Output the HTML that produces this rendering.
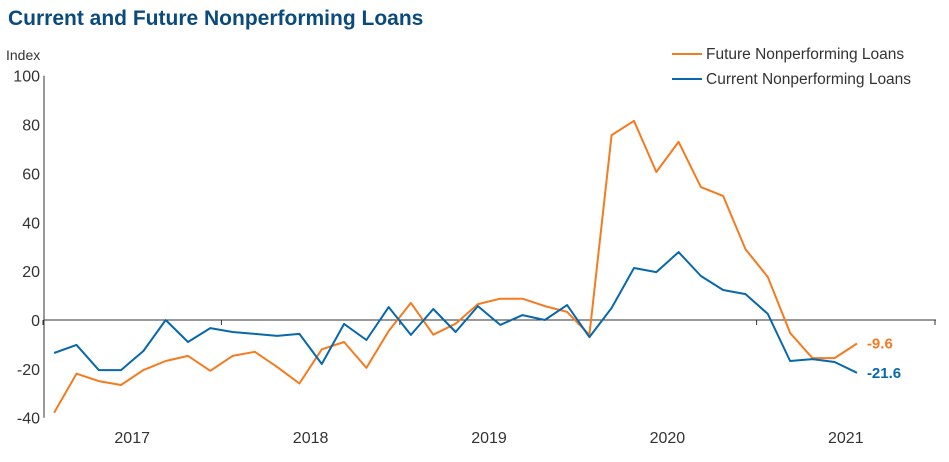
<!DOCTYPE html>
<html><head><meta charset="utf-8"><style>
body{margin:0;background:#fff;font-family:"Liberation Sans",Arial,sans-serif;}
svg text{font-family:"Liberation Sans",Arial,sans-serif;}
</style></head><body>
<svg width="949" height="457" xmlns="http://www.w3.org/2000/svg">
<text x="8" y="25" font-size="21" font-weight="bold" fill="#0b4a7d">Current and Future Nonperforming  Loans</text>
<text x="6" y="60" font-size="14" fill="#333">Index</text>
<g id="axes"></g>
<g id="series"></g>
<g>
<line x1="672" y1="54" x2="702" y2="54" stroke="#f47b20" stroke-width="2"/>
<text x="706" y="59" font-size="15.5" fill="#333">Future Nonperforming Loans</text>
<line x1="672" y1="79" x2="702" y2="79" stroke="#0868ac" stroke-width="2"/>
<text x="706" y="84" font-size="15.5" fill="#333">Current Nonperforming Loans</text>
</g>
</svg>
<script>
const future=[-38,-22,-25,-26.6,-20.5,-16.8,-14.7,-20.8,-14.7,-13,-19.2,-26,-12,-9,-19.6,-4.5,7,-6,-1.5,6.5,8.7,8.7,5.7,3.3,-6.1,75.7,81.5,60.6,72.9,54.4,50.8,29,17.6,-5.3,-15.6,-15.6,-9.6];
const current=[-13.5,-10.2,-20.5,-20.5,-12.7,0,-9,-3.3,-4.9,-5.7,-6.5,-5.7,-18,-1.6,-8.2,5.3,-6.1,4.5,-4.9,5.7,-2,2,0,6.1,-7,4.9,21.3,19.6,27.8,18,12.3,10.6,2.5,-16.8,-16,-17.2,-21.6];
const yTicks=[100,80,60,40,20,0,-20,-40];
const years=["2017","2018","2019","2020","2021"];
const NS="http://www.w3.org/2000/svg";
const x0=43,yearW=178.4,perYear=8,step=yearW/perYear;
function xs(i){return x0+(i+0.5)*step;}
function ys(v){return 320-v*2.443;}
function mk(tag,attrs,parent){const e=document.createElementNS(NS,tag);for(const k in attrs)e.setAttribute(k,attrs[k]);parent.appendChild(e);return e;}
const ax=document.getElementById('axes');
let e=mk('line',{x1:44,y1:ys(100),x2:44,y2:ys(-40),stroke:'#333','stroke-width':1},ax);


e=mk('line',{x1:44,y1:ys(0),x2:936,y2:ys(0),stroke:'#333','stroke-width':1},ax);


yTicks.forEach(v=>{
 const t=mk('text',{x:40,y:ys(v)+6,'font-size':16,fill:'#333','text-anchor':'end'},ax);t.textContent=v;
 
 
});
for(let k=0;k<=years.length;k++){
 const tx=x0+k*yearW;
 const l=mk('line',{x1:tx,y1:ys(0),x2:tx,y2:ys(0)+5,stroke:'#333'},ax);
 
 
}
years.forEach((y,k)=>{
 const t=mk('text',{x:x0+(k+0.5)*yearW,y:443,'font-size':16,fill:'#333','text-anchor':'middle'},ax);t.textContent=y;
 
 
});
const sg=document.getElementById('series');
function line(data,color,name){
 const p=mk('polyline',{points:data.map((v,i)=>xs(i).toFixed(1)+','+ys(v).toFixed(1)).join(' '),fill:'none',stroke:color,'stroke-width':2,'stroke-linejoin':'round'},sg);
 
 
}
line(future,'#f47b20','future-line');
line(current,'#0868ac','current-line');
const n=future.length-1;
let t=mk('text',{x:xs(n)+10,y:ys(future[n])+5,'font-size':15,'font-weight':'bold',fill:'#f47b20'},sg);t.textContent=future[n].toFixed(1);


t=mk('text',{x:xs(n)+10,y:ys(current[n])+5,'font-size':15,'font-weight':'bold',fill:'#0868ac'},sg);t.textContent=current[n].toFixed(1);


</script>
</body></html>
